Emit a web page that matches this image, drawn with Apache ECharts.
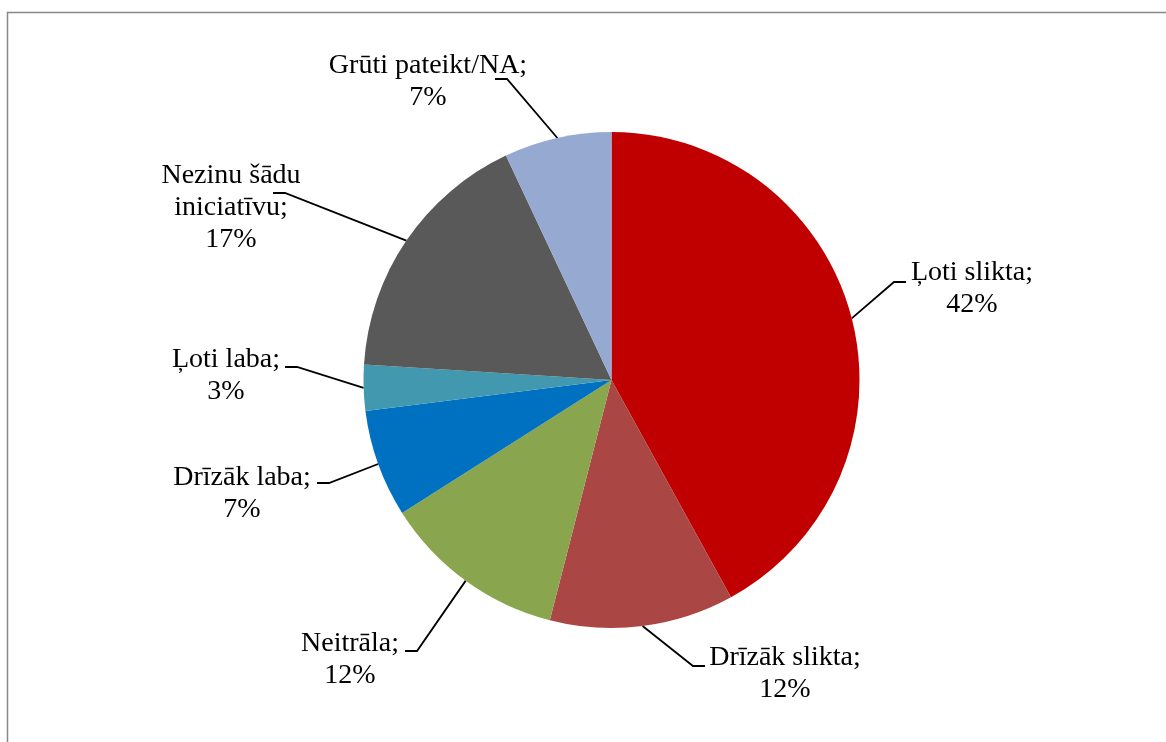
<!DOCTYPE html>
<html>
<head>
<meta charset="utf-8">
<script src="https://cdn.jsdelivr.net/npm/echarts@6/dist/echarts.min.js"></script>
<style>
    html, body { margin: 0; padding: 0; background: #fff; }
    #chart { width: 1166px; height: 742px; }
</style>
</head>
<body>
<div id="chart"></div>
<script>
// Answer categories and shares (%)
const categories = [
    'Ļoti slikta',
    'Drīzāk slikta',
    'Neitrāla',
    'Drīzāk laba',
    'Ļoti laba',
    'Nezinu šādu\niniciatīvu',
    'Grūti pateikt/NA'
];
const shares = [42, 12, 12, 7, 3, 17, 7];
const colors = ['#C00000', '#AA4643', '#89A54E', '#0070C0', '#4198AF', '#595959', '#95A9D1'];

// Where each label sits (centre of text block) and where its leader line ends
const labelCenters = [[972, 289], [785, 674], [350, 660], [242, 494], [226, 376], [231, 208], [428, 82]];
const leaderTips = [[906, 282], [705, 666], [405, 651], [317, 483], [285, 367], [273, 193], [495, 79]];

document.addEventListener('DOMContentLoaded', function() {
    const chart = echarts.init(document.getElementById('chart'));

    const data = categories.map(function(name, i) {
        return { name: name, value: shares[i], itemStyle: { color: colors[i] } };
    });

    const option = {
        animation: false,
        backgroundColor: '#fff',
        graphic: [
            {
                type: 'rect',
                silent: true,
                shape: { x: 7.5, y: 12.5, width: 1200, height: 800 },
                style: { fill: 'none', stroke: '#878787', lineWidth: 1.5 }
            }
        ],
        series: [
            {
                type: 'pie',
                center: [611.5, 380],
                radius: 248,
                startAngle: 90,
                clockwise: true,
                avoidLabelOverlap: false,
                silent: true,
                itemStyle: { borderWidth: 0 },
                label: {
                    show: true,
                    position: 'outside',
                    color: '#000',
                    fontFamily: '"Liberation Serif", "DejaVu Serif", serif',
                    fontSize: 28,
                    lineHeight: 32,
                    align: 'center',
                    formatter: function(p) {
                        return p.name + ';\n' + p.value + '%';
                    }
                },
                labelLine: {
                    show: true,
                    lineStyle: { color: '#000', width: 1.8 }
                },
                labelLayout: function(params) {
                    const i = params.dataIndex;
                    const start = params.labelLinePoints[0];
                    const tip = leaderTips[i];
                    const dir = start[0] > tip[0] ? 1 : -1;
                    return {
                        x: labelCenters[i][0],
                        y: labelCenters[i][1],
                        align: 'center',
                        verticalAlign: 'middle',
                        labelLinePoints: [start, [tip[0] + dir * 12, tip[1]], tip]
                    };
                },
                data: data
            }
        ]
    };
    chart.setOption(option);
});
</script>
</body>
</html>
